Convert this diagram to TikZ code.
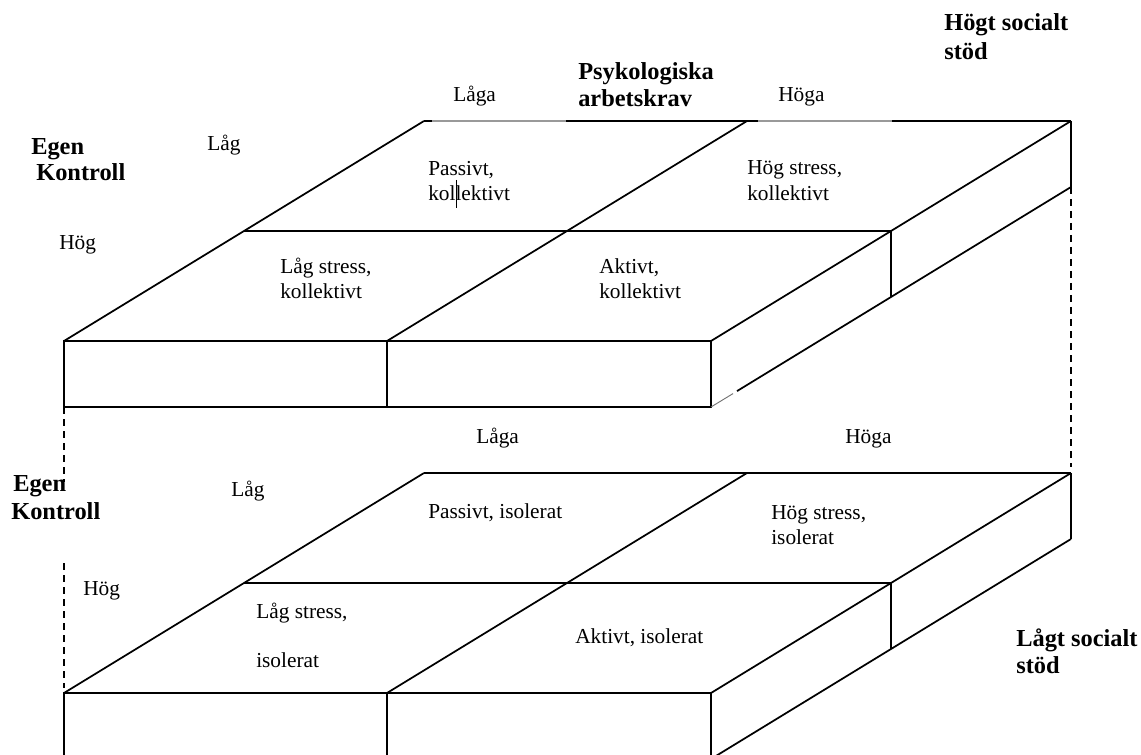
\documentclass[tikz,border=0pt]{standalone}
\usepackage{fontspec}
\setmainfont{Liberation Serif}
\begin{document}
\begin{tikzpicture}[x=0.75pt,y=-0.75pt,
  edge/.style={line width=1.3pt},
  lightedge/.style={line width=1.3pt, black!40},
  thinedge/.style={line width=0.7pt, black!55},
  dashedge/.style={line width=1.5pt, dash pattern=on 5.5pt off 3.5pt},
  cursorbar/.style={line width=0.6pt},
  lbl/.style={anchor=base west, inner sep=0pt, font=\fontsize{16}{19}\selectfont},
  head/.style={anchor=base west, inner sep=0pt, font=\bfseries\fontsize{18.3}{22}\selectfont}]
\useasboundingbox (0,0) rectangle (1141,755);
\clip (0,0) rectangle (1141,755);

% ---- two slabs ----
\foreach \s/\o in {t/0, b/352}{
  \coordinate (\s BL) at (424,121+\o);
  \coordinate (\s BM) at (747,121+\o);
  \coordinate (\s BR) at (1071,121+\o);
  \coordinate (\s ML) at (244,231+\o);
  \coordinate (\s MR) at (891,231+\o);
  \coordinate (\s FL) at (64,341+\o);
  \coordinate (\s FM) at (387,341+\o);
  \coordinate (\s FR) at (711,341+\o);
  \coordinate (\s BRd) at (1071,187+\o);
  \coordinate (\s MRd) at (891,297+\o);
  \coordinate (\s FLd) at (64,407+\o);
  \coordinate (\s FMd) at (387,407+\o);
  \coordinate (\s FRd) at (711,407+\o);
  \draw[edge] (\s BL) -- (\s BR);
  \draw[edge] (\s FL) -- (\s BL);
  \draw[edge] (\s FM) -- (\s BM);
  \draw[edge] (\s FR) -- (\s BR);
  \draw[edge] (\s ML) -- (\s MR);
  \draw[edge] (\s FL) -- (\s FR) -- (\s FRd) -- (\s FLd) -- cycle;
  \draw[edge] (\s FM) -- (\s FMd);
  \draw[edge] (\s BR) -- (\s BRd);
  \draw[edge] (\s MR) -- (\s MRd);
}
% lower side edges
\coordinate (tgapA) at (737,391.1);
\coordinate (tgapB) at (733,393.6);
\draw[edge] (tBRd) -- (tgapA);
\draw[thinedge] (tgapB) -- (tFRd);
\draw[edge] (bBRd) -- (bFRd);

% lighter parts of the upper back edge
\coordinate (g1a) at (432,121);
\coordinate (g1b) at (566,121);
\coordinate (g2a) at (758,121);
\coordinate (g2b) at (892,121);
\draw[lightedge] (g1a) -- (g1b);
\draw[lightedge] (g2a) -- (g2b);

% ---- texts, upper slab ----
\node[head] (hs1) at (944,31) {Högt socialt};
\node[head] (hs2) at (944,60) {stöd};
\node[head] (pa1) at (578,80) {Psykologiska};
\node[head] (pa2) at (578,107) {arbetskrav};
\node[lbl] (tlaga) at (453,102) {Låga};
\node[lbl] (thoga) at (778,102) {Höga};
\node[head] (tek1) at (31,155) {Egen};
\node[head] (tek2) at (36,181) {Kontroll};
\node[lbl] (tlag) at (207,151) {Låg};
\node[lbl] (thog) at (59,250) {Hög};
\node[lbl] (pk1) at (428,176) {Passivt,};
\node[lbl] (pk2) at (428,201) {kollektivt};
\node[lbl] (hk1) at (747,175) {Hög stress,};
\node[lbl] (hk2) at (747,201) {kollektivt};
\node[lbl] (lk1) at (280,274) {Låg stress,};
\node[lbl] (lk2) at (280,299) {kollektivt};
\node[lbl] (ak1) at (599,274) {Aktivt,};
\node[lbl] (ak2) at (599,299) {kollektivt};
\coordinate (cur1) at (456.5,180);
\coordinate (cur2) at (456.5,208);
\draw[cursorbar] (cur1) -- (cur2);

% ---- texts, lower slab ----
\node[lbl] (blaga) at (476,443) {Låga};
\node[lbl] (bhoga) at (845,443) {Höga};
\node[head] (bek1) at (13,491) {Egen};
\node[head] (bek2) at (11,519) {Kontroll};
\node[lbl] (blag) at (231,496) {Låg};
\node[lbl] (bhog) at (83,595) {Hög};
\node[lbl] (pi) at (428,518) {Passivt, isolerat};
\node[lbl] (hi1) at (771,519) {Hög stress,};
\node[lbl] (hi2) at (771,544) {isolerat};
\node[lbl] (li1) at (256,618) {Låg stress,};
\node[lbl] (li2) at (256,667) {isolerat};
\node[lbl] (ai) at (575,643) {Aktivt, isolerat};
\node[head] (ls1) at (1016,646) {Lågt socialt};
\node[head] (ls2) at (1016,673) {stöd};

% ---- dashed links between slabs ----
\coordinate (ld1) at (64,482);
\coordinate (ld2) at (64,563);
\coordinate (ld3) at (64,688);
\coordinate (rd1) at (1071,467);
\draw[dashedge] (tFLd) -- (ld1);
\draw[dashedge] (ld2) -- (ld3);
\draw[dashedge] (tBRd) -- (rd1);
\end{tikzpicture}
\end{document}
